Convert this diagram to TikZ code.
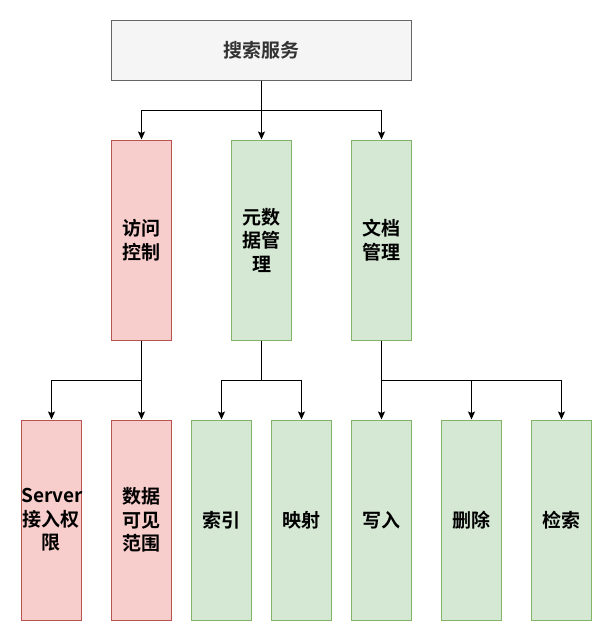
\documentclass[tikz,border=0pt]{standalone}
\usepackage{fontspec}
\setmainfont{Noto Sans CJK SC}[BoldFont={Noto Sans CJK SC Bold}]
\usetikzlibrary{arrows.meta}
\definecolor{redfill}{HTML}{F8CECC}
\definecolor{redline}{HTML}{B85450}
\definecolor{greenfill}{HTML}{D5E8D4}
\definecolor{greenline}{HTML}{82B366}
\definecolor{grayfill}{HTML}{F5F5F5}
\definecolor{grayline}{HTML}{666666}
\definecolor{graytext}{HTML}{333333}
\begin{document}
\begin{tikzpicture}[x=1pt,y=-1pt,
  box/.style={draw, line width=1pt, inner sep=0pt, align=center,
    font=\fontsize{19}{23.5}\selectfont\bfseries},
  rootbox/.style={box, fill=grayfill, draw=grayline, text=graytext,
    minimum width=300pt, minimum height=60pt},
  tallbox/.style={box, minimum width=60pt, minimum height=200pt, text width=60pt},
  redbox/.style={tallbox, fill=redfill, draw=redline},
  greenbox/.style={tallbox, fill=greenfill, draw=greenline},
  link/.style={draw, line width=1pt, -{Stealth[length=8pt,width=7pt,inset=1.5pt]}}]
\useasboundingbox (0,0) rectangle (612,641);

% root
\node[rootbox] (root) at (261.5,50) {搜索服务};

% second level
\node[redbox]   (acc)  at (141.5,240) {访问\\控制};
\node[greenbox] (meta) at (261.5,240) {元数\\据管\\理};
\node[greenbox] (doc)  at (381.5,240) {文档\\管理};

% third level
\node[redbox]   (srv)   at (51.5,520)  {Server\\接入权\\限};
\node[redbox]   (scope) at (141.5,520) {数据\\可见\\范围};
\node[greenbox] (idx)   at (221.5,520) {索引};
\node[greenbox] (map)   at (301.5,520) {映射};
\node[greenbox] (wr)    at (381.5,520) {写入};
\node[greenbox] (del)   at (471.5,520) {删除};
\node[greenbox] (qry)   at (561.5,520) {检索};

% branch points
\coordinate (jr) at (261.5,110);
\coordinate (ja) at (141.5,380);
\coordinate (jm) at (261.5,380);
\coordinate (jd) at (381.5,380);

% connectors
\draw[link] (root.south) -- (jr) -| (acc.north);
\draw[link] (root.south) -- (meta.north);
\draw[link] (root.south) -- (jr) -| (doc.north);

\draw[link] (acc.south) -- (ja) -| (srv.north);
\draw[link] (acc.south) -- (scope.north);

\draw[link] (meta.south) -- (jm) -| (idx.north);
\draw[link] (meta.south) -- (jm) -| (map.north);

\draw[link] (doc.south) -- (wr.north);
\draw[link] (doc.south) -- (jd) -| (del.north);
\draw[link] (doc.south) -- (jd) -| (qry.north);
\end{tikzpicture}
\end{document}
